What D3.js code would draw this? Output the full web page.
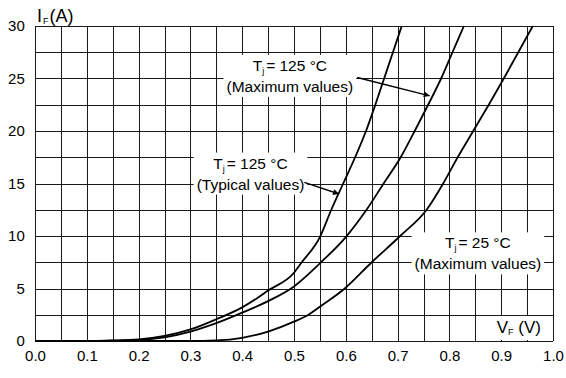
<!DOCTYPE html>
<html>
<head>
<meta charset="utf-8">
<script src="https://cdn.jsdelivr.net/npm/d3@7"></script>
<style>
  html, body { margin: 0; padding: 0; background: #fff; }
  svg { display: block; font-family: "Liberation Sans", Arial, sans-serif; }
</style>
</head>
<body>
<svg id="chart" width="566" height="378"></svg>
<script>
const width = 566;
const height = 378;
const margin = { top: 26, right: 13, bottom: 37, left: 35 };

// forward voltage (V) / forward current (A)
const typ125V = [0, 0.1, 0.15, 0.2, 0.25, 0.3, 0.35, 0.4, 0.428, 0.45, 0.5, 0.515, 0.55, 0.572, 0.595, 0.618, 0.639, 0.657, 0.674, 0.691, 0.708];
const typ125I = [0, 0, 0.05, 0.15, 0.48, 1.1, 2.07, 3.2, 4.05, 4.8, 6.5, 7.5, 9.9, 12.5, 15, 17.5, 20, 22.5, 25, 27.5, 30];

const max125V = [0, 0.1, 0.15, 0.2, 0.25, 0.3, 0.35, 0.4, 0.45, 0.5, 0.55, 0.6, 0.64, 0.673, 0.706, 0.733, 0.759, 0.784, 0.806, 0.828];
const max125I = [0, 0, 0.03, 0.1, 0.35, 0.9, 1.7, 2.7, 3.8, 5.2, 7.4, 9.9, 12.5, 15, 17.5, 20, 22.5, 25, 27.5, 30];

const max25V = [0, 0.3, 0.35, 0.4, 0.45, 0.5, 0.528, 0.55, 0.598, 0.65, 0.705, 0.756, 0.788, 0.816, 0.846, 0.876, 0.905, 0.933, 0.961];
const max25I = [0, 0, 0.05, 0.3, 0.9, 1.84, 2.5, 3.27, 5, 7.5, 10, 12.5, 15, 17.5, 20, 22.5, 25, 27.5, 30];

const xGrid = [0, 0.05, 0.1, 0.15, 0.2, 0.25, 0.3, 0.35, 0.4, 0.45, 0.5, 0.55, 0.6, 0.65, 0.7, 0.75, 0.8, 0.85, 0.9, 0.95, 1.0];
const yGrid = [0, 2.5, 5, 7.5, 10, 12.5, 15, 17.5, 20, 22.5, 25, 27.5, 30];
const xTickLabels = [0, 0.1, 0.2, 0.3, 0.4, 0.5, 0.6, 0.7, 0.8, 0.9, 1.0];
const yTickLabels = [0, 5, 10, 15, 20, 25, 30];

// annotation anchors in data units: [V, I] of text centre, arrow from/to
const annotations = [
    { lines: ["125 °C", "(Maximum values)"], at: [0.492, 26.2], arrow: [[0.622, 25.1], [0.762, 23.35]] },
    { lines: ["125 °C", "(Typical values)"], at: [0.416, 16.9], arrow: [[0.52, 15.1], [0.587, 14.0]] },
    { lines: ["25 °C", "(Maximum values)"], at: [0.855, 9.3], arrow: null }
];

const svg = d3.select("#chart");

const x = d3.scaleLinear().domain([0, 1]).range([margin.left, width - margin.right]);
const y = d3.scaleLinear().domain([0, 30]).range([height - margin.bottom, margin.top]);
const snap = v => Math.round(v) + 0.5;

svg.append("defs").append("marker")
    .attr("id", "arrow")
    .attr("viewBox", "0 -5 10 10")
    .attr("refX", 10)
    .attr("refY", 0)
    .attr("markerWidth", 8)
    .attr("markerHeight", 6)
    .attr("markerUnits", "userSpaceOnUse")
    .attr("orient", "auto")
    .append("path")
    .attr("d", "M0,-5L10,0L0,5Z")
    .attr("fill", "#000");

// grid
const grid = svg.append("g");
grid.selectAll("line.v")
    .data(xGrid)
    .enter().append("line")
    .attr("x1", d => snap(x(d)))
    .attr("x2", d => snap(x(d)))
    .attr("y1", y(0))
    .attr("y2", y(30))
    .attr("stroke", "#1a1a1a")
    .attr("stroke-width", 1);

grid.selectAll("line.h")
    .data(yGrid)
    .enter().append("line")
    .attr("y1", d => snap(y(d)))
    .attr("y2", d => snap(y(d)))
    .attr("x1", x(0))
    .attr("x2", x(1))
    .attr("stroke", "#1a1a1a")
    .attr("stroke-width", 1);

// axes (labels only)
const xAxis = svg.append("g")
    .attr("transform", `translate(0,${y(0) + 6})`)
    .call(d3.axisBottom(x).tickValues(xTickLabels).tickSize(0).tickFormat(d3.format(".1f")));
const yAxis = svg.append("g")
    .attr("transform", `translate(${x(0) - 8},0)`)
    .call(d3.axisLeft(y).tickValues(yTickLabels).tickSize(0));
[xAxis, yAxis].forEach(a => {
    a.select(".domain").remove();
    a.selectAll("text")
        .attr("font-family", "Liberation Sans, Arial, sans-serif")
        .attr("font-size", 15)
        .attr("fill", "#000");
});
yAxis.selectAll("text").attr("dx", "0.05em");

// annotation text with white boxes
const fontSize = 15.5;
const lineGap = 21;
annotations.forEach(a => {
    const cx = x(a.at[0]);
    const cy = y(a.at[1]);
    const g = svg.append("g");
    const box = g.append("rect").attr("fill", "#fff");
    const t1 = g.append("text")
        .attr("x", cx)
        .attr("y", cy + 5)
        .attr("text-anchor", "middle")
        .attr("font-size", fontSize);
    t1.append("tspan").text("T");
    t1.append("tspan").attr("font-size", 9).attr("dy", 3).text("j");
    t1.append("tspan").attr("dy", -3).attr("dx", 2).text("= " + a.lines[0]);
    g.append("text")
        .attr("x", cx)
        .attr("y", cy + 5 + lineGap)
        .attr("text-anchor", "middle")
        .attr("font-size", fontSize)
        .text(a.lines[1]);
    const bb = g.node().getBBox();
    box.attr("x", bb.x - 3)
        .attr("y", bb.y - 2)
        .attr("width", bb.width + 6)
        .attr("height", bb.height + 4);
});

// V_F label
const vf = svg.append("g");
const vfBox = vf.append("rect").attr("fill", "#fff");
const vfText = vf.append("text")
    .attr("x", x(1) - 12)
    .attr("y", y(0) - 8)
    .attr("text-anchor", "end")
    .attr("font-size", 17);
vfText.append("tspan").text("V");
vfText.append("tspan").attr("font-size", 9).attr("dy", 2).text("F");
vfText.append("tspan").attr("dy", -2).text(" (V)");
const vb = vf.node().getBBox();
vfBox.attr("x", vb.x - 4).attr("y", vb.y - 2).attr("width", vb.width + 8).attr("height", y(0) - vb.y + 1);

// I_F label
const ifText = svg.append("text")
    .attr("x", x(0) + 2)
    .attr("y", 22)
    .attr("font-size", 18);
ifText.append("tspan").text("I");
ifText.append("tspan").attr("font-size", 9).attr("dy", 2).attr("dx", 1).text("F");
ifText.append("tspan").attr("dy", -2).attr("dx", 1).text("(A)");

// curves
const line = d3.line()
    .x(d => x(d[0]))
    .y(d => y(d[1]))
    .curve(d3.curveMonotoneX);

[[typ125V, typ125I], [max125V, max125I], [max25V, max25I]].forEach(([vs, is]) => {
    svg.append("path")
        .datum(vs.map((v, i) => [v, is[i]]))
        .attr("fill", "none")
        .attr("stroke", "#000")
        .attr("stroke-width", 1.8)
        .attr("d", line);
});

// arrows
annotations.filter(a => a.arrow).forEach(a => {
    svg.append("line")
        .attr("x1", x(a.arrow[0][0]))
        .attr("y1", y(a.arrow[0][1]))
        .attr("x2", x(a.arrow[1][0]))
        .attr("y2", y(a.arrow[1][1]))
        .attr("stroke", "#000")
        .attr("stroke-width", 1.4)
        .attr("marker-end", "url(#arrow)");
});
</script>
</body>
</html>
